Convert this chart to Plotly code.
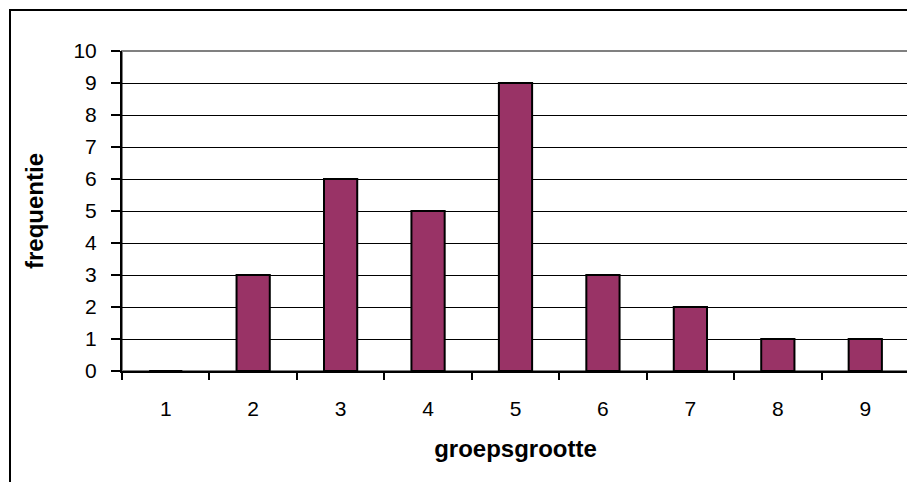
import plotly.graph_objects as go

categories = ["1", "2", "3", "4", "5", "6", "7", "8", "9"]
frequencies = [0, 3, 6, 5, 9, 3, 2, 1, 1]
y_ticks = list(range(0, 11))

# page body has an 8px margin, so the figure is 8px smaller than the window
L, R, T, B = 114, 6, 43, 111
W, H = 907, 474
pw = W - L - R
ph = H - T - B

fig = go.Figure()
fig.add_trace(go.Bar(
    x=categories, y=frequencies,
    marker=dict(color="#993366", line=dict(color="black", width=2)),
    width=0.38,
))

font = dict(family="Liberation Sans, Arial", size=21, color="black")

fig.update_layout(
    width=W, height=H,
    margin=dict(l=L, r=R, t=T, b=B),
    paper_bgcolor="white", plot_bgcolor="white",
    showlegend=False,
    font=font,
    xaxis=dict(
        type="category",
        showline=True, linecolor="black", linewidth=2,
        ticks="outside", tickson="boundaries", ticklen=7, tickwidth=2, tickcolor="black",
        showgrid=False,
        ticklabelstandoff=18,
        tickfont=dict(size=21),
        title=dict(text="<b>groepsgrootte</b>", font=dict(size=24), standoff=21),
        range=[-0.5, 8.5],
    ),
    yaxis=dict(
        range=[0, 10], tickvals=y_ticks,
        showline=True, linecolor="black", linewidth=2,
        ticks="outside", ticklen=9, tickwidth=2, tickcolor="black",
        showgrid=True, gridcolor="black", gridwidth=1,
        zeroline=False,
        ticklabelstandoff=10,
        tickfont=dict(size=21),
        title=dict(text="<b>frequentie</b>", font=dict(size=24), standoff=23),
    ),
    shapes=[
        dict(type="rect", xref="paper", yref="paper", x0=0, y0=0, x1=1, y1=1,
             line=dict(color="#808080", width=2), layer="below"),
        dict(type="rect", xref="paper", yref="paper",
             x0=(2 - L) / pw, y0=(H - B - 495) / ph,
             x1=(925 - L) / pw, y1=1 + (T - 2) / ph,
             line=dict(color="black", width=2)),
    ],
)

fig.write_html("out.html")
